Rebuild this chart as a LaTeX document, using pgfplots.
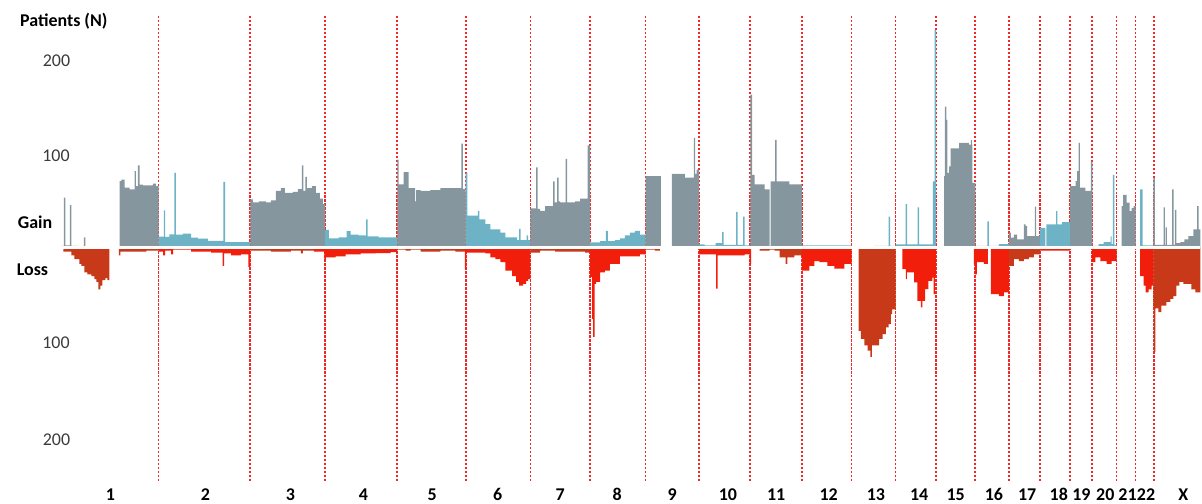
\documentclass[border=0pt]{standalone}
\usepackage{pgfplots}
\pgfplotsset{compat=1.18}
\usepackage{fontspec}
\setmainfont{Carlito}
\definecolor{cgray}{HTML}{85969E}
\definecolor{cblue}{HTML}{6DB3C5}
\definecolor{cred}{HTML}{F01E0A}
\definecolor{cdark}{HTML}{C83919}
\definecolor{ctext}{HTML}{3A3A3A}
\definecolor{cline}{HTML}{F02828}
\begin{document}
\begin{tikzpicture}[
  lab/.style={anchor=base,font=\fontsize{18}{20}\selectfont\bfseries},
  num/.style={anchor=base,text=ctext,font=\fontsize{18}{20}\selectfont}]
\begin{axis}[width=1202pt,height=505pt,scale only axis,
  xmin=0,xmax=1202,ymin=-270,ymax=261.58,
  axis lines=none,clip=false,
  gG/.style={const plot mark left,fill=cgray,draw=none,mark=none},
  gB/.style={const plot mark left,fill=cblue,draw=none,mark=none},
  lR/.style={const plot mark left,fill=cred,draw=none,mark=none},
  lD/.style={const plot mark left,fill=cdark,draw=none,mark=none}]
\path (rel axis cs:0,0) rectangle (rel axis cs:1,1);
% chromosome boundaries
\pgfplotsinvokeforeach{157.3,249.3,324.3,396.7,465.3,530.3,590,645.7,699.3,750.7,802.3,852.3,896.3,936.7,976.3,1010,1041,1071.3,1093.3,1118,1137,1155.7}{
  \draw[cline,line width=1.7pt,dash pattern=on 2.5pt off 1.5pt] (axis cs:#1,244.7) -- (axis cs:#1,-245.8);
}
% ---------------- GAIN ----------------
% chr1
\addplot[gG] coordinates {(60,2)(62.5,53)(64,2.5)(68.5,45)(70,2)(77,1)(82.5,11)(84,1.5)(100,1)(107,2)(108,0)(118.3,70.3)(120,72)(123.3,63.4)(128.3,61.6)(133.3,81)(134.7,65)(136.7,87)(138.3,66.8)(141.7,66)(151.7,67.7)(155,65)(157.3,65)} \closedcycle;
% chr2
\addplot[gB] coordinates {(157.3,11.8)(162.7,39.5)(164,11.6)(168.3,14.2)(173.3,79)(174.7,14)(181.7,15)(190,10.7)(196.7,9.7)(206.7,7.2)(222.3,69.7)(224,6.1)(249.3,6.1)} \closedcycle;
% chr3
\addplot[gG] coordinates {(249.3,51)(252,48)(258,49)(265,48)(270,50)(275,60)(280,63)(284,58)(292,59)(297,62)(301,87)(302.5,60)(304.5,75)(306,63)(311,65)(315,58)(319,52)(322,46)(324.3,44)} \closedcycle;
% chr4
\addplot[gB] coordinates {(324.3,19)(328,10)(338,11)(346,17.7)(350,14)(358,13)(365.5,30)(367,12)(378,11)(396.7,11)} \closedcycle;
% chr5
\addplot[gG] coordinates {(396.7,93)(398,67)(403,80)(408,63)(414.5,49)(415.5,61)(420,60)(430,61)(440,63)(450,63)(461,110)(462.5,62)(465.3,62)} \closedcycle;
% chr6
\addplot[gB] coordinates {(465.3,79)(467,34)(477.5,39)(479,30)(485,25)(490,19.5)(500,16)(505,11)(517,8)(519,20)(520.5,8)(526.5,13)(528,8)(530.3,8)} \closedcycle;
% chr7
\addplot[gG] coordinates {(530.3,41.5)(536,85)(537.5,41)(540,39)(545,44)(553,70)(554.5,48)(557,74)(558.5,49)(560,48)(565.5,94)(567,48)(575,49)(580,52)(587.5,108)(590,52)} \closedcycle;
% chr8
\addplot[gB] coordinates {(590,5.8)(600,7)(606,18)(608,7)(615,8)(620,10)(625,13)(630,16)(635,18)(640,14)(645.7,14)} \closedcycle;
% chr9
\addplot[gG] coordinates {(645.7,75.6)(661,0)(672,78)(685,74)(694,116)(695.5,78)(697,82.6)(699.3,82.6)} \closedcycle;
% chr10
\addplot[gB] coordinates {(699.3,3.7)(705,2.5)(716,5)(722.5,16.6)(724,3)(736.5,38)(738,3)(743.5,33)(745,2.5)(750.7,2.5)} \closedcycle;
% chr11
\addplot[gG] coordinates {(750.7,161.6)(752.5,77)(755,67)(765,61.6)(770,0)(771.2,70)(775.5,114)(777,70)(790,67)(802.3,67)} \closedcycle;
% chr12
\addplot[gB] coordinates {(802.3,2.5)(852.3,2.5)} \closedcycle;
% chr13
\addplot[gB] coordinates {(852.3,1.5)(875,2)(889.5,33)(891,2)(896.3,2)} \closedcycle;
% chr14
\addplot[gB] coordinates {(896.3,3.7)(906.5,46)(908,3.7)(918.5,42.6)(920,3.7)(933.8,70)(935.5,230)(937,0)(937.5,0)} \closedcycle;
% chr15
\addplot[gG] coordinates {(945,75.6)(945.7,149)(947.3,135)(948.3,79)(950,86)(951.7,105)(960,110.7)(970,109)(972,114)(973,109)(973.3,68.6)(976.3,68.6)} \closedcycle;
% chr16
\addplot[gB] coordinates {(976.3,2)(988.5,28)(990,2)(1000,4)(1010,5)} \closedcycle;
% chr17
\addplot[gG] coordinates {(1010,16)(1012,10.7)(1015,14)(1018.3,9)(1025,24.7)(1026.7,23)(1028.3,12.4)(1036,43.4)(1037.3,12.4)(1041,12.4)} \closedcycle;
% chr18
\addplot[gB] coordinates {(1041,21)(1046.7,0)(1047.7,24.7)(1057.3,38.7)(1058.7,24.7)(1063.3,27)(1071.3,27)} \closedcycle;
% chr19
\addplot[gG] coordinates {(1071.3,65)(1077,70.3)(1078.3,81)(1080,110.7)(1081.3,63.4)(1086.7,60)(1092.3,91)(1093.8,0)} \closedcycle;
% chr20
\addplot[gB] coordinates {(1093.8,2)(1100,4)(1105,6)(1112,12)(1113,4)(1114.2,77)(1115.7,3)(1118,3)} \closedcycle;
% chr21
\addplot[gG] coordinates {(1118,1)(1123,44)(1124.5,56)(1128,47.6)(1131,38.7)(1133,41.8)(1135,44)(1137,44)} \closedcycle;
% chr22
\addplot[gB] coordinates {(1137,0)(1141.5,61.6)(1144,2.5)(1155,2.5)} \closedcycle;
% chrX
\addplot[gG] coordinates {(1155,74)(1156.5,3)(1165.2,42.6)(1166.5,3)(1167.2,21.6)(1168.4,3)(1173.8,61.6)(1175.2,3)(1176.5,40)(1178,5)(1182,6)(1186,9)(1190,12.4)(1195,19.5)(1198.8,44)(1200.2,19.5)(1202,19.5)} \closedcycle;
% ---------------- LOSS ----------------
% chr1
\addplot[lD] coordinates {(62,-4)(70,-8)(73,-12)(78,-17)(80,-19)(83,-26)(86,-28)(90,-30)(93,-33)(95,-36)(97,-44)(99,-40)(101,-34)(104,-32)(106,-34)(108,0)(117.5,-8)(119,-4)(130,-4)(145,-3)(157.3,-4)} \closedcycle;
% chr2
\addplot[lR] coordinates {(157.3,-4)(162,-8)(164,-3)(170,-7)(172,-2)(190,-4)(200,-4)(210,-5)(221.5,-19)(223,-6)(230,-8)(240,-7)(247.5,-20)(249.3,-4)} \closedcycle;
% chr3
\addplot[lD] coordinates {(249.3,-3)(270,-4)(280,-4)(290,-3)(300,-6)(302,-3)(313,0)} \closedcycle;
% chr4
\addplot[lR] coordinates {(313,-4)(323.5,-12)(325,-10)(335,-9)(345,-7)(360,-6)(375,-5.5)(390,-4.5)(396.7,-3)} \closedcycle;
% chr5
\addplot[lD] coordinates {(396.7,-2)(405,-3)(410,-2)(420,-4)(440,-3)(455,-4)(464.5,-3)} \closedcycle;
% chr6
\addplot[lR] coordinates {(464.5,-23)(466,-5)(475,-5)(485,-6)(490,-10)(495,-12)(500,-15)(505,-24)(512,-30)(516,-36)(519,-40)(523,-38)(526,-35)(528,-33)(530.3,-10)} \closedcycle;
% chr7
\addplot[lD] coordinates {(530.3,-5)(540,-3)(555,-4)(570,-4)(585,-5)(590,-3)} \closedcycle;
% chr8
\addplot[lR] coordinates {(590,-31)(592,-75)(593,-94)(594.5,-38)(596,-36)(600,-26)(605,-24)(610,-17)(620,-9)(630,-9)(640,-7)(645.7,-5)} \closedcycle;
% chr9
\addplot[lD] coordinates {(646,-2)(655,-3)(660,0)(699.3,0)} \closedcycle;
% chr10
\addplot[lR] coordinates {(699.3,-7)(716.5,-43)(718,-8)(735,-8)(745,-7)(750,-17)(751.5,-2)} \closedcycle;
% chr11
\addplot[lD] coordinates {(760,-3)(770,-2)(775,-3)(780,-10)(786,-17)(788,-10)(795,-8)(802.3,-8)} \closedcycle;
% chr12
\addplot[lR] coordinates {(802.3,-24)(810,-19)(815,-14)(820,-15)(828,-19)(835,-22)(845,-17)(852.3,-17)} \closedcycle;
% chr13
\addplot[lD] coordinates {(859.3,-87.6)(861.7,-96)(865,-103)(868.3,-108.6)(871.2,-115)(872.5,-103)(875,-103)(880,-96)(883.3,-91)(886.7,-84)(889.3,-80.5)(891.7,-70)(893,-65)(896.3,-65)} \closedcycle;
% chr14
\addplot[lR] coordinates {(903.3,-22.6)(906.7,-33)(907.8,-26)(915,-36.6)(918.3,-56)(921.7,-63)(923.3,-56)(926,-43.7)(929.3,-35)(933.3,-31.4)(934.5,-49)(935.8,-31.4)(936.7,-31.4)} \closedcycle;
% chr16
\addplot[lR] coordinates {(975,-17)(976,-28)(978,-15)(985,-17)(989,0)(992,-49)(1000,-51)(1005,-47)(1010,-47)} \closedcycle;
% chr17
\addplot[lD] coordinates {(1010,-19)(1015,-12)(1020,-14)(1025,-12)(1030,-10)(1035,-7)(1041,-7)} \closedcycle;
% chr18
\addplot[lR] coordinates {(1041,-3)(1071.3,-3)} \closedcycle;
% chr20
\addplot[lR] coordinates {(1093.3,-15)(1096.7,-10)(1101.7,-14)(1108,-17)(1113,-14)(1118,-14)} \closedcycle;
% chr22
\addplot[lR] coordinates {(1141.7,-30)(1145,-40)(1147,-47)(1150,-44)(1153,-40)(1155,-40)} \closedcycle;
% chrX
\addplot[lD] coordinates {(1155,-64)(1155.3,-110)(1156.8,-64)(1160,-68)(1163,-61)(1168,-57)(1172,-54)(1175,-51)(1178,-40)(1181,-36)(1185,-38)(1190,-38)(1193,-44)(1197,-47)(1202,-47)} \closedcycle;
% gap between gain and loss
\draw[white,line width=3.3pt] (axis cs:0,0) -- (axis cs:1202,0);
% texts
\node[anchor=base west,font=\fontsize{18}{20}\selectfont\bfseries] at (axis cs:15,233.5) {Patients (N)};
\node[num] at (axis cs:55,191.4) {200};
\node[num] at (axis cs:54.5,91.4) {100};
\node[anchor=base west,font=\fontsize{18}{20}\selectfont\bfseries] at (axis cs:12.7,20.2) {Gain};
\node[anchor=base west,font=\fontsize{18}{20}\selectfont\bfseries] at (axis cs:11.7,-29) {Loss};
\node[num] at (axis cs:54.5,-106.8) {100};
\node[num] at (axis cs:55,-208.6) {200};
% chromosome labels
\node[lab] at (axis cs:109,-266.5) {1};
\node[lab] at (axis cs:204.3,-266.5) {2};
\node[lab] at (axis cs:289.5,-266.5) {3};
\node[lab] at (axis cs:362.7,-266.5) {4};
\node[lab] at (axis cs:431.7,-266.5) {5};
\node[lab] at (axis cs:497.3,-266.5) {6};
\node[lab] at (axis cs:560,-266.5) {7};
\node[lab] at (axis cs:617.3,-266.5) {8};
\node[lab] at (axis cs:672.3,-266.5) {9};
\node[lab] at (axis cs:728.3,-266.5) {10};
\node[lab] at (axis cs:776.7,-266.5) {11};
\node[lab] at (axis cs:829.3,-266.5) {12};
\node[lab] at (axis cs:876.7,-266.5) {13};
\node[lab] at (axis cs:920,-266.5) {14};
\node[lab] at (axis cs:956.7,-266.5) {15};
\node[lab] at (axis cs:995,-266.5) {16};
\node[lab] at (axis cs:1028.3,-266.5) {17};
\node[lab] at (axis cs:1060,-266.5) {18};
\node[lab] at (axis cs:1082.7,-266.5) {19};
\node[lab] at (axis cs:1106.7,-266.5) {20};
\node[lab] at (axis cs:1129,-266.5) {21};
\node[lab] at (axis cs:1147.5,-266.5) {22};
\node[lab] at (axis cs:1185,-266.5) {X};
\end{axis}
\end{tikzpicture}
\end{document}
